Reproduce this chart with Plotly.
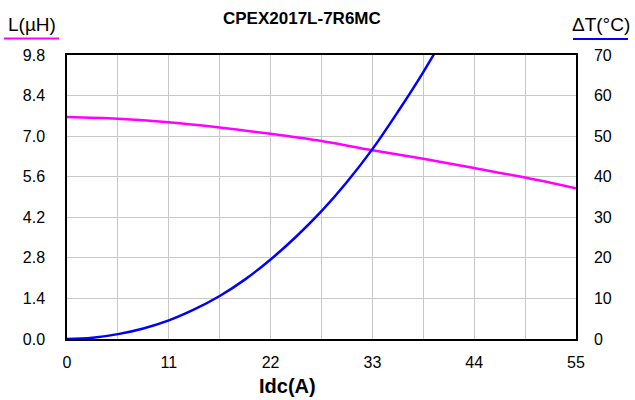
import plotly.graph_objects as go

# Data
idc_L = [0, 5.5, 11, 16.5, 22, 27.5, 33, 38.5, 44, 49.5, 55]
L_uH = [7.66, 7.60, 7.48, 7.30, 7.08, 6.83, 6.51, 6.22, 5.90, 5.57, 5.20]

idc_T = [0, 2.75, 5.5, 8.25, 11, 13.75, 16.5, 19.25, 22, 24.75, 27.5, 30.25, 33, 35.75, 38.5, 41.25]
dT = [0, 0.3, 1.2, 2.6, 4.6, 7.3, 10.6, 14.7, 19.6, 25.2, 31.5, 38.7, 46.8, 56.0, 65.8, 76.5]

x_tickvals = [0, 5.5, 11, 16.5, 22, 27.5, 33, 38.5, 44, 49.5, 55]
x_ticktext = ["0", "", "11", "", "22", "", "33", "", "44", "", "55"]
yL_tickvals = [0, 1.4, 2.8, 4.2, 5.6, 7.0, 8.4, 9.8]
yL_ticktext = ["0.0", "1.4", "2.8", "4.2", "5.6", "7.0", "8.4", "9.8"]
yT_tickvals = [0, 10, 20, 30, 40, 50, 60, 70]

W, H = 635, 400
ml, mr, mt, mb = 67, 59, 55, 61
pw, ph = W - ml - mr, H - mt - mb

def px_x(p):
    return (p - ml) / pw

def px_y(p):
    return (H - mb - p) / ph

font = "Liberation Sans, Arial, sans-serif"

fig = go.Figure()
fig.add_trace(go.Scatter(x=idc_L, y=L_uH, mode="lines", line=dict(color="#ff00ff", width=2.5, shape="spline"),
                         yaxis="y", showlegend=False))
fig.add_trace(go.Scatter(x=idc_T, y=dT, mode="lines", line=dict(color="#0000ff", width=2.5, shape="spline"),
                         yaxis="y2", showlegend=False))

fig.update_layout(
    width=W, height=H,
    margin=dict(l=ml, r=mr, t=mt, b=mb),
    paper_bgcolor="white", plot_bgcolor="white",
    font=dict(family=font, size=16, color="black"),
    xaxis=dict(range=[0, 55], tickvals=x_tickvals, ticktext=x_ticktext,
               showgrid=True, gridcolor="#c8c8c8", gridwidth=1,
               showline=True, linecolor="black", linewidth=1.5, mirror=True,
               ticks="outside", ticklen=8, tickcolor="rgba(0,0,0,0)", zeroline=False, tickfont=dict(size=16)),
    yaxis=dict(range=[0, 9.8], tickvals=yL_tickvals, ticktext=yL_ticktext,
               showgrid=True, gridcolor="#c8c8c8", gridwidth=1,
               showline=True, linecolor="black", linewidth=1.5, mirror=True,
               ticks="", ticklabelstandoff=17, zeroline=False, tickfont=dict(size=16)),
    yaxis2=dict(range=[0, 70], tickvals=yT_tickvals, overlaying="y", side="right",
                showgrid=False, showline=True, linecolor="black", linewidth=1.5,
                ticks="outside", ticklen=13, tickcolor="rgba(0,0,0,0)", zeroline=False, tickfont=dict(size=16)),
    annotations=[
        dict(text="<b>CPEX2017L-7R6MC</b>", x=px_x(302), y=px_y(18), xref="paper", yref="paper",
             showarrow=False, font=dict(size=17), xanchor="center", yanchor="middle"),
        dict(text="<b>Idc(A)</b>", x=px_x(287), y=px_y(386), xref="paper", yref="paper",
             showarrow=False, font=dict(size=20), xanchor="center", yanchor="middle"),
        dict(text="L(µH)", x=px_x(31.5), y=px_y(24), xref="paper", yref="paper",
             showarrow=False, font=dict(size=19), xanchor="center", yanchor="middle"),
        dict(text="ΔT(°C)", x=px_x(601), y=px_y(24), xref="paper", yref="paper",
             showarrow=False, font=dict(size=19), xanchor="center", yanchor="middle"),
    ],
    shapes=[
        dict(type="line", xref="paper", yref="paper", x0=px_x(4), x1=px_x(59), y0=px_y(38.5), y1=px_y(38.5),
             line=dict(color="#ff00ff", width=2)),
        dict(type="line", xref="paper", yref="paper", x0=px_x(573), x1=px_x(628), y0=px_y(39), y1=px_y(39),
             line=dict(color="#0000ff", width=2)),
    ],
)

# remove the default page margin so the 635x400 figure fills the window exactly
fig.write_html("out.html", config={"displayModeBar": False},
               post_script="document.body.style.margin='0';document.body.style.overflow='hidden';")
